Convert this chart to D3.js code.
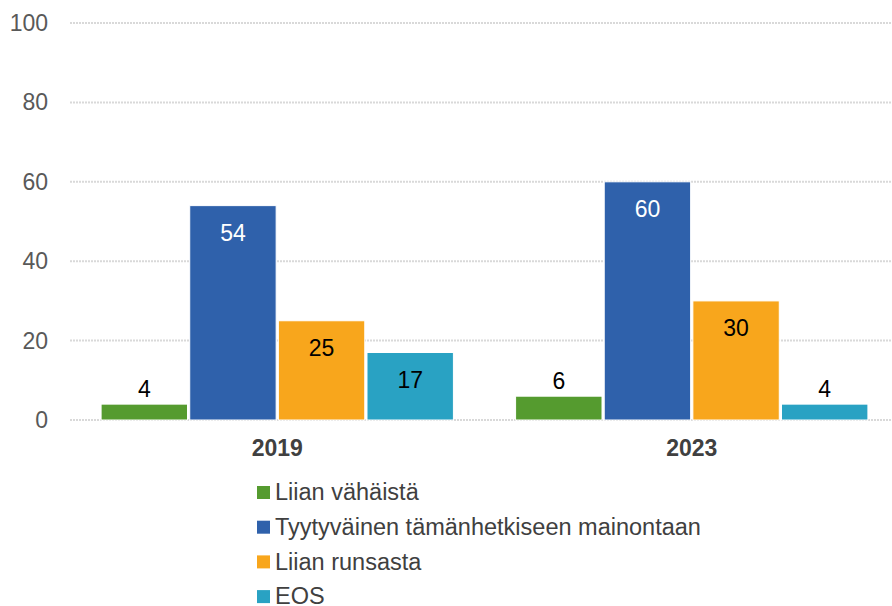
<!DOCTYPE html>
<html>
<head>
<meta charset="utf-8">
<script src="https://cdn.jsdelivr.net/npm/d3@7"></script>
<style>
body { margin: 0; background: white; }
svg { font-family: "Liberation Sans", Arial, sans-serif; }
</style>
</head>
<body>
<script>
const years = ["2019", "2023"];
const series = ["Liian vähäistä", "Tyytyväinen tämänhetkiseen mainontaan", "Liian runsasta", "EOS"];
const values2019 = [4, 54, 25, 17];
const values2023 = [6, 60, 30, 4];
const yTicks = [0, 20, 40, 60, 80, 100];
const colors = ["#559B2F", "#2F61AB", "#F8A61C", "#29A2C3"];
const labelColors = ["#000", "#fff", "#000", "#000"];

const width = 892;
const height = 606;

const svg = d3.select("body")
.append("svg")
.attr("width", width)
.attr("height", height);

const y = d3.scaleLinear().domain([0, 100]).range([420, 23]);

const x0 = d3.scaleBand()
.domain(years)
.range([70, 899])
.paddingInner(0.15)
.paddingOuter(0.075);

const x1 = d3.scaleBand()
.domain(series)
.range([0, x0.bandwidth()])
.paddingInner(0.025);

// grid lines
svg.append("g")
.selectAll("line")
.data(yTicks)
.enter()
.append("line")
.attr("x1", 70)
.attr("x2", width)
.attr("y1", d => y(d))
.attr("y2", d => y(d))
.attr("stroke", "#d9d9d9")
.attr("stroke-width", 2)
.attr("stroke-dasharray", "2,1");

// y tick labels
svg.append("g")
.selectAll("text")
.data(yTicks)
.enter()
.append("text")
.attr("x", 48)
.attr("y", d => y(d))
.attr("dy", "0.35em")
.attr("text-anchor", "end")
.attr("fill", "#595959")
.style("font-size", "23px")
.text(d => d);

const data = [];
years.forEach(function(yr, i)
{
    const vals = i == 0 ? values2019 : values2023;
    series.forEach(function(s, j)
    {
        data.push({ year: yr, serie: s, index: j, value: vals[j] });
    });
});

const bars = svg.append("g");

bars.selectAll("rect")
.data(data)
.enter()
.append("rect")
.attr("x", d => x0(d.year) + x1(d.serie))
.attr("y", d => y(d.value))
.attr("width", x1.bandwidth())
.attr("height", d => y(0) - y(d.value))
.attr("fill", d => colors[d.index])
.attr("stroke", "white")
.attr("stroke-width", 1);

// value labels
bars.selectAll("text")
.data(data)
.enter()
.append("text")
.attr("x", d => x0(d.year) + x1(d.serie) + x1.bandwidth() / 2)
.attr("y", function(d)
{
    if(d.value < 10)
    {
        return y(d.value) - 15;
    }
    return y(d.value) + 27;
})
.attr("dy", "0.35em")
.attr("text-anchor", "middle")
.attr("fill", d => d.value < 10 ? "#000" : labelColors[d.index])
.style("font-size", "23px")
.text(d => d.value);

// category labels
svg.append("g")
.selectAll("text")
.data(years)
.enter()
.append("text")
.attr("x", d => x0(d) + x0.bandwidth() / 2)
.attr("y", 448)
.attr("dy", "0.35em")
.attr("text-anchor", "middle")
.attr("fill", "#404040")
.style("font-size", "23px")
.style("font-weight", "bold")
.text(d => d);

// legend
const legende = svg.append("g")
.selectAll("g")
.data(series)
.enter()
.append("g")
.attr("transform", (d, i) => "translate(257," + (492 + i * 34.7) + ")");

legende.append("rect")
.attr("x", 0)
.attr("y", -6)
.attr("width", 13)
.attr("height", 13)
.attr("fill", (d, i) => colors[i]);

legende.append("text")
.attr("x", 18)
.attr("y", 0)
.attr("dy", "0.35em")
.attr("fill", "#404040")
.style("font-size", "23.5px")
.text(d => d);
</script>
</body>
</html>
